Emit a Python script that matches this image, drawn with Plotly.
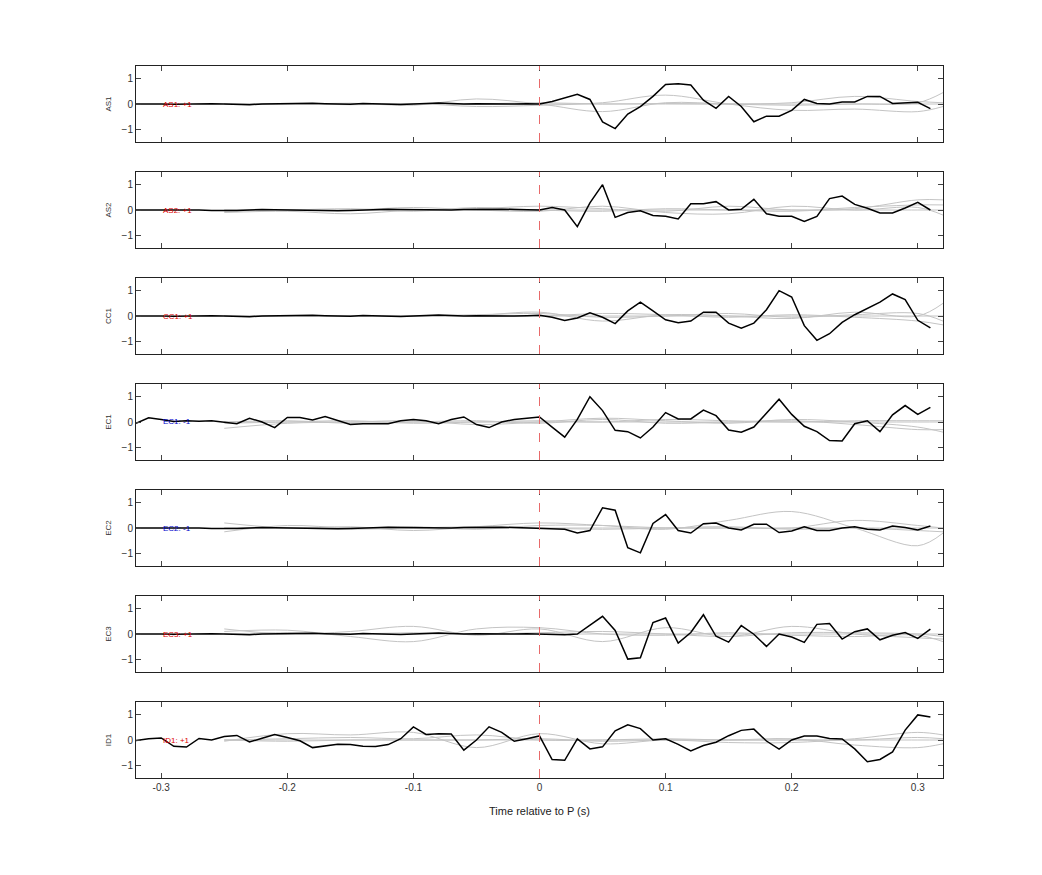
import numpy as np
import plotly.graph_objects as go
from plotly.subplots import make_subplots

stations = ["AS1", "AS2", "CC1", "EC1", "EC2", "EC3", "ID1"]
polarity = ["+1", "+1", "+1", "-1", "-1", "+1", "+1"]

# black trace sampled every 0.01 s from -0.32 to 0.31
t = np.round(np.arange(-32, 32) / 100.0, 2)

quiet_a = [0.0, 0.01, 0.0, -0.01, 0.0, 0.02, 0.01, 0.0, -0.02, -0.03, 0.0, 0.01, 0.0, 0.02, 0.03, 0.01,
           0.0, -0.01, 0.02, 0.01, 0.0, -0.02, 0.0, 0.03, 0.04, 0.02, 0.0, 0.01, 0.0, -0.01, 0.0, 0.01]
quiet_b = [0.0, 0.0, -0.01, 0.0, 0.01, 0.0, -0.02, -0.03, -0.02, 0.0, 0.02, 0.01, 0.0, -0.01, -0.03, -0.04,
           -0.03, -0.02, 0.0, 0.02, 0.03, 0.02, 0.01, 0.0, -0.01, 0.0, 0.02, 0.03, 0.04, 0.03, 0.02, 0.01]

as1 = quiet_a + [0.0, 0.1, 0.25, 0.38, 0.18, -0.71, -0.97, -0.4, -0.1, 0.3, 0.77, 0.8, 0.75, 0.15, -0.17, 0.3,
                 -0.1, -0.7, -0.48, -0.48, -0.25, 0.18, 0.02, 0.0, 0.08, 0.08, 0.3, 0.3, 0.02, 0.05, 0.07, -0.18]
as2 = quiet_b + [0.0, 0.1, 0.0, -0.66, 0.28, 1.0, -0.29, -0.1, -0.03, -0.22, -0.25, -0.35, 0.25, 0.25, 0.33, 0.0,
                 0.03, 0.42, -0.15, -0.25, -0.25, -0.45, -0.25, 0.45, 0.55, 0.22, 0.07, -0.12, -0.12, 0.08, 0.3, 0.0]
cc1 = quiet_a + [0.03, -0.05, -0.18, -0.08, 0.13, -0.05, -0.3, 0.2, 0.55, 0.2, -0.15, -0.27, -0.2, 0.15, 0.15, -0.28,
                 -0.48, -0.28, 0.25, 1.0, 0.75, -0.38, -0.96, -0.7, -0.25, 0.05, 0.3, 0.55, 0.87, 0.65, -0.17, -0.47]
ec1 = [-0.05, 0.17, 0.1, 0.02, 0.05, 0.03, 0.05, -0.02, -0.07, 0.15, 0.0, -0.22, 0.18, 0.18, 0.08, 0.22,
       0.05, -0.1, -0.07, -0.07, -0.07, 0.05, 0.1, 0.05, -0.07, 0.1, 0.2, -0.1, -0.22, 0.0, 0.1, 0.15] + \
      [0.2, -0.2, -0.6, 0.1, 1.0, 0.45, -0.33, -0.38, -0.63, -0.2, 0.37, 0.12, 0.12, 0.47, 0.25, -0.32,
       -0.4, -0.2, 0.35, 0.9, 0.3, -0.17, -0.38, -0.73, -0.75, -0.07, 0.05, -0.38, 0.28, 0.65, 0.3, 0.58]
ec2 = quiet_b + [0.0, -0.02, -0.05, -0.2, -0.1, 0.8, 0.7, -0.78, -0.98, 0.18, 0.53, -0.1, -0.2, 0.17, 0.2, 0.0,
                 -0.08, 0.15, 0.15, -0.18, -0.12, 0.05, -0.1, -0.1, 0.0, 0.05, -0.05, -0.08, 0.08, 0.02, -0.08, 0.08]
ec3 = quiet_a + [0.0, -0.02, -0.03, 0.0, 0.36, 0.7, 0.14, -0.99, -0.94, 0.45, 0.63, -0.36, 0.06, 0.76, -0.09, -0.32,
                 0.33, -0.01, -0.49, 0.0, -0.12, -0.33, 0.38, 0.41, -0.2, 0.09, 0.2, -0.23, -0.05, 0.06, -0.17, 0.19]
id1 = [-0.02, 0.05, 0.08, -0.25, -0.28, 0.06, 0.0, 0.14, 0.18, -0.08, 0.07, 0.22, 0.1, -0.03, -0.3, -0.25,
       -0.17, -0.18, -0.25, -0.26, -0.18, 0.05, 0.52, 0.22, 0.25, 0.24, -0.4, 0.0, 0.52, 0.3, -0.05, 0.05] + \
      [0.16, -0.77, -0.8, 0.04, -0.35, -0.27, 0.36, 0.6, 0.45, 0.0, 0.05, -0.17, -0.43, -0.22, -0.09, 0.17,
       0.38, 0.43, -0.04, -0.36, 0.0, 0.16, 0.16, 0.06, 0.04, -0.35, -0.86, -0.77, -0.47, 0.39, 0.99, 0.91]
black = [as1, as2, cc1, ec1, ec2, ec3, id1]

# grey comparison traces, coarse samples drawn as splines
tg = [-0.25, -0.2, -0.15, -0.1, -0.05, 0.0, 0.05, 0.1, 0.15, 0.2, 0.25, 0.3, 0.32]
grey = [
    [[0.0, -0.02, 0.03, -0.05, 0.2, 0.0, -0.3, 0.05, 0.0, -0.05, 0.0, 0.05, 0.45],
     [0.0, 0.02, -0.03, 0.02, -0.1, -0.05, 0.05, 0.35, 0.0, -0.25, -0.2, -0.3, -0.1],
     [0.0, 0.0, 0.02, 0.0, 0.0, 0.05, 0.0, 0.02, 0.0, 0.05, 0.3, 0.1, 0.05],
     [0.0, 0.0, 0.0, 0.0, 0.0, 0.0, 0.0, 0.0, 0.0, 0.0, 0.0, 0.0, 0.0]],
    [[-0.1, -0.05, -0.15, 0.0, 0.05, 0.15, 0.05, -0.05, 0.15, 0.0, 0.05, 0.4, 0.4],
     [-0.05, 0.0, 0.0, 0.1, 0.0, -0.05, 0.15, -0.1, -0.15, 0.15, 0.0, 0.1, -0.2],
     [0.0, 0.0, 0.05, -0.05, 0.1, 0.0, -0.05, 0.05, 0.0, -0.05, 0.1, 0.2, 0.2],
     [0.0, 0.0, 0.0, 0.0, 0.0, 0.0, 0.0, 0.0, 0.0, 0.0, 0.0, 0.0, 0.0]],
    [[0.0, 0.0, 0.02, -0.02, 0.02, 0.15, -0.2, 0.05, 0.0, -0.1, 0.15, 0.0, 0.5],
     [0.0, -0.02, 0.0, 0.02, 0.0, 0.0, 0.1, 0.05, -0.05, 0.05, -0.05, -0.2, -0.35],
     [0.0, 0.0, 0.0, 0.0, 0.05, 0.1, -0.05, 0.0, 0.1, -0.05, 0.05, 0.1, -0.2],
     [0.0, 0.0, 0.0, 0.0, 0.0, 0.0, 0.0, 0.0, 0.0, 0.0, 0.0, 0.0, 0.0]],
    [[-0.25, -0.05, 0.0, 0.05, -0.1, 0.0, 0.15, 0.05, -0.05, 0.1, 0.0, -0.2, -0.4],
     [0.0, 0.05, -0.05, 0.0, 0.05, -0.05, 0.1, -0.05, 0.0, 0.05, -0.1, -0.3, -0.3],
     [-0.05, 0.0, 0.05, -0.05, 0.0, 0.05, 0.0, 0.1, 0.05, 0.0, 0.05, 0.05, 0.05],
     [0.0, 0.0, 0.0, 0.0, 0.0, 0.0, 0.0, 0.0, 0.0, 0.0, 0.0, 0.0, 0.0]],
    [[0.2, 0.0, 0.05, -0.1, 0.05, 0.2, 0.1, -0.05, 0.3, 0.65, 0.0, -0.7, -0.2],
     [-0.15, 0.1, 0.0, 0.05, -0.05, 0.1, 0.1, 0.0, 0.0, 0.0, 0.3, 0.1, 0.0],
     [0.0, 0.0, -0.05, 0.0, 0.05, 0.0, -0.05, 0.0, 0.05, -0.05, 0.0, -0.1, -0.15],
     [0.0, 0.0, 0.0, 0.0, 0.0, 0.0, 0.0, 0.0, 0.0, 0.0, 0.0, 0.0, 0.0]],
    [[0.2, 0.0, 0.1, 0.3, -0.05, 0.2, -0.3, 0.25, -0.1, 0.3, 0.0, -0.15, -0.2],
     [0.1, 0.15, -0.1, -0.3, 0.2, 0.25, 0.0, -0.05, 0.05, -0.05, -0.1, -0.05, -0.3],
     [0.0, 0.05, 0.0, 0.05, 0.0, 0.05, 0.1, 0.0, -0.1, 0.05, 0.05, 0.0, -0.1],
     [0.0, 0.0, 0.0, 0.0, 0.0, 0.0, 0.0, 0.0, 0.0, 0.0, 0.0, 0.0, 0.0]],
    [[-0.05, 0.25, 0.2, 0.3, -0.3, 0.25, -0.15, 0.0, -0.1, -0.1, 0.05, 0.3, 0.2],
     [0.0, 0.05, 0.1, 0.05, 0.2, 0.0, 0.0, 0.05, 0.0, 0.05, -0.2, -0.3, -0.15],
     [0.0, -0.05, 0.0, 0.0, 0.0, 0.05, -0.05, 0.0, 0.0, 0.0, 0.0, 0.1, 0.05],
     [0.0, 0.0, 0.0, 0.0, 0.0, 0.0, 0.0, 0.0, 0.0, 0.0, 0.0, 0.0, 0.0]],
]

fig = make_subplots(rows=7, cols=1, shared_xaxes=False, vertical_spacing=30 / 712)

for i, name in enumerate(stations):
    row = i + 1
    for g in grey[i]:
        fig.add_trace(go.Scatter(x=tg, y=g, mode="lines", line=dict(color="#c4c4c4", width=1, shape="spline"),
                                 showlegend=False, hoverinfo="skip"), row=row, col=1)
    fig.add_trace(go.Scatter(x=t, y=black[i], mode="lines", line=dict(color="black", width=1.5),
                             showlegend=False, name=name), row=row, col=1)
    col = "#0000cc" if polarity[i] == "-1" else "#dd0000"
    fig.add_annotation(x=-0.3, y=0, xref=f"x{row if row > 1 else ''}", yref=f"y{row if row > 1 else ''}",
                       text=f"{name}: {polarity[i]}", showarrow=False, xanchor="left",
                       font=dict(size=8, color=col))
    fig.add_shape(type="line", x0=0, x1=0, y0=-1.5, y1=1.5, row=row, col=1,
                  line=dict(color="#e86a6a", width=1, dash="dash"))
    fig.update_yaxes(range=[-1.5, 1.5], tickvals=[-1, 0, 1], ticks="inside", ticklen=5, mirror="ticks",
                     showline=True, linecolor="#222", linewidth=1, showgrid=False, zeroline=False,
                     title=dict(text=name, font=dict(size=8, color="#333"), standoff=8),
                     tickfont=dict(size=10, color="#333"), row=row, col=1)
    fig.update_xaxes(range=[-0.32, 0.32], tickvals=[-0.3, -0.2, -0.1, 0, 0.1, 0.2, 0.3],
                     ticktext=["-0.3", "-0.2", "-0.1", "0", "0.1", "0.2", "0.3"],
                     ticks="inside", ticklen=5, mirror="ticks", showline=True, linecolor="#222", linewidth=1,
                     showgrid=False, zeroline=False, showticklabels=(row == 7),
                     tickfont=dict(size=10, color="#333"), row=row, col=1)

fig.update_xaxes(title=dict(text="Time relative to P (s)", font=dict(size=11, color="#222")), row=7, col=1)
fig.update_layout(width=1042, height=875, margin=dict(l=128, r=107, t=58, b=105),
                  plot_bgcolor="white", paper_bgcolor="white",
                  font=dict(family="Liberation Sans, Arial, sans-serif", color="#222"))
fig.write_html("out.html")
